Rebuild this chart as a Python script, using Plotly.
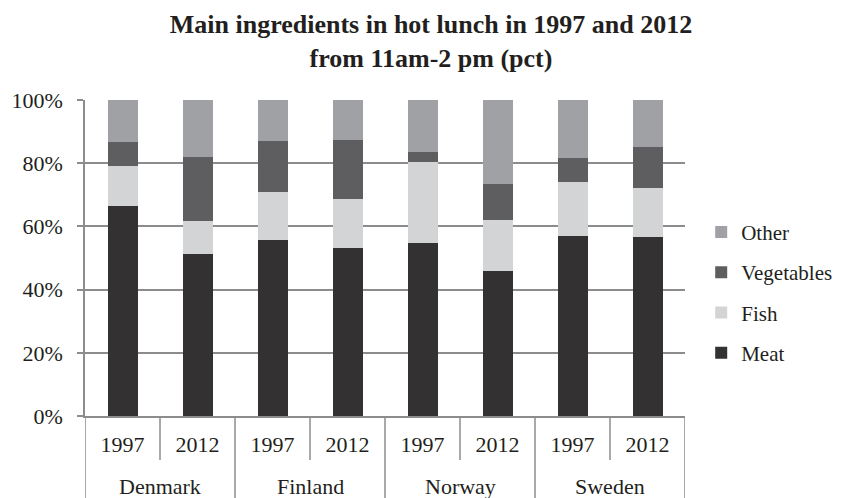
import plotly.graph_objects as go

countries = ["Denmark", "Finland", "Norway", "Sweden"]
years = ["1997", "2012", "1997", "2012", "1997", "2012", "1997", "2012"]
positions = list(range(len(years)))

meat = [66.4, 51.4, 55.7, 53.2, 54.6, 45.9, 56.9, 56.6]
fish = [12.7, 10.2, 15.3, 15.4, 25.7, 16.2, 17.2, 15.5]
vegetables = [7.5, 20.5, 16.1, 18.7, 3.3, 11.4, 7.6, 13.1]
other = [13.4, 17.9, 12.9, 12.7, 16.4, 26.5, 18.3, 14.8]

series = [
    ("Meat", meat, "#333132", 4),
    ("Fish", fish, "#d3d4d6", 3),
    ("Vegetables", vegetables, "#5e5e60", 2),
    ("Other", other, "#a0a1a4", 1),
]

FONT = "Liberation Serif"
TXT = "#231f20"
GRID = "#8c8c8c"

# the page body adds an 8px margin: the figure is drawn 8px right/down of the window corner
W, H = 844, 498
ML, MR, MT, MB = 77, 167, 92, 90
PH = H - MT - MB  # plot height in px (316)

fig = go.Figure()
for name, vals, col, rank in series:
    fig.add_trace(go.Bar(
        x=positions, y=vals, name=name, legendgroup=name, legendrank=rank,
        marker=dict(color=col, line=dict(width=0)),
    ))

def py(pix_below):
    return -pix_below / float(PH)

shapes = []
for k in range(len(countries)):
    xc = 2 * k + 0.5
    shapes.append(dict(type="line", xref="x", yref="paper", x0=xc, x1=xc,
                       y0=0, y1=py(44), line=dict(color=GRID, width=1.5)))
for k in range(len(countries) + 1):
    xb = 2 * k - 0.5
    shapes.append(dict(type="line", xref="x", yref="paper", x0=xb, x1=xb,
                       y0=0, y1=py(90), line=dict(color=GRID, width=1.5)))

annotations = []
for k, c in enumerate(countries):
    annotations.append(dict(x=2 * k + 0.5, xref="x", y=py(70), yref="paper",
                            text=c, showarrow=False, yanchor="middle",
                            font=dict(family=FONT, size=22, color=TXT)))

fig.update_layout(
    width=W, height=H,
    barmode="stack", bargap=0.6,
    plot_bgcolor="white", paper_bgcolor="white",
    margin=dict(l=ML, r=MR, t=MT, b=MB, autoexpand=False),
    font=dict(family=FONT, size=22, color=TXT),
    title=dict(
        text="<b>Main ingredients in hot lunch in 1997 and 2012<br>from 11am-2 pm (pct)</b>",
        x=423 / W, xanchor="center", xref="container",
        y=1 - 25 / H, yanchor="top", yref="container",
        font=dict(family=FONT, size=26, color=TXT),
    ),
    legend=dict(
        x=1.027, xanchor="left", y=0.39, yanchor="middle",
        traceorder="grouped", tracegroupgap=10,
        font=dict(family=FONT, size=21, color=TXT),
        itemwidth=30,
    ),
    showlegend=True,
    shapes=shapes,
    annotations=annotations,
)
fig.update_yaxes(
    range=[0, 100], dtick=20, ticksuffix="%",
    showgrid=True, gridcolor=GRID, gridwidth=1.5,
    showline=True, linecolor=GRID, linewidth=1.5,
    ticks="outside", ticklen=6, tickcolor=GRID, tickwidth=1.5,
    ticklabelstandoff=10,
    tickfont=dict(family=FONT, size=22, color=TXT),
    automargin=False, zeroline=False,
)
fig.update_xaxes(
    range=[-0.5, 7.5],
    tickmode="array", tickvals=positions, ticktext=years,
    showline=True, linecolor=GRID, linewidth=1.5,
    ticks="", showgrid=False, zeroline=False,
    ticklabelstandoff=8,
    tickfont=dict(family=FONT, size=22, color=TXT),
    automargin=False,
)

fig.write_html("out.html")
